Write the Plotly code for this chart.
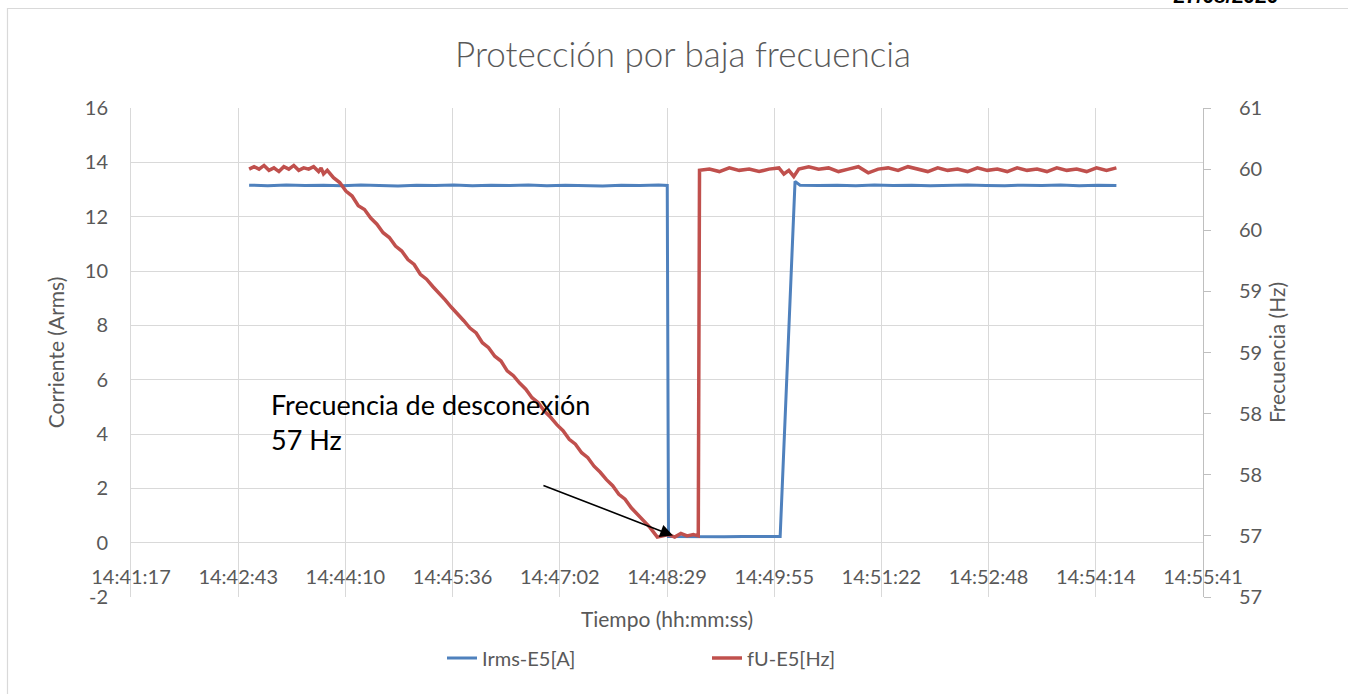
import pandas as pd
import plotly.graph_objects as go

DATE = "2020-08-27"

# Irms-E5[A] (eje izquierdo)
irms_time = ["14:42:52", "14:43:07", "14:43:22", "14:43:37", "14:43:52", "14:44:07", "14:44:22",
             "14:44:37", "14:44:52", "14:45:07", "14:45:22", "14:45:37", "14:45:52", "14:46:07",
             "14:46:22", "14:46:37", "14:46:52", "14:47:07", "14:47:22", "14:47:37", "14:47:52",
             "14:48:07", "14:48:22", "14:48:29", "14:48:30", "14:48:45", "14:49:00", "14:49:15",
             "14:49:30", "14:49:45", "14:50:00", "14:50:12", "14:50:16", "14:50:31", "14:50:46",
             "14:51:01", "14:51:16", "14:51:31", "14:51:46", "14:52:01", "14:52:16", "14:52:31",
             "14:52:46", "14:53:01", "14:53:16", "14:53:31", "14:53:46", "14:54:01", "14:54:16",
             "14:54:31"]
irms_val = [13.16, 13.14, 13.17, 13.15, 13.16, 13.14, 13.17,
            13.15, 13.13, 13.16, 13.15, 13.17, 13.14, 13.16,
            13.15, 13.17, 13.14, 13.16, 13.15, 13.13, 13.16,
            13.15, 13.17, 13.15, 0.23, 0.22, 0.23, 0.22,
            0.23, 0.22, 0.23, 13.30, 13.16, 13.15, 13.16,
            13.14, 13.17, 13.15, 13.16, 13.14, 13.15, 13.17,
            13.15, 13.14, 13.16, 13.15, 13.17, 13.14, 13.16,
            13.15]

# fU-E5[Hz] (eje derecho)
fu_time = ["14:42:52", "14:42:56", "14:43:00", "14:43:04", "14:43:08", "14:43:12", "14:43:16",
           "14:43:20", "14:43:24", "14:43:28", "14:43:32", "14:43:36", "14:43:40", "14:43:44",
           "14:43:48", "14:43:50", "14:43:52", "14:43:55",
           "14:44:00", "14:44:05", "14:44:10", "14:44:15", "14:44:20", "14:44:25", "14:44:30",
           "14:44:35", "14:44:40", "14:44:45", "14:44:50", "14:44:55", "14:45:00", "14:45:05",
           "14:45:10", "14:45:15", "14:45:20", "14:45:25", "14:45:30", "14:45:35", "14:45:40",
           "14:45:45", "14:45:50", "14:45:55", "14:46:00", "14:46:05", "14:46:10", "14:46:15",
           "14:46:20", "14:46:25", "14:46:30", "14:46:35", "14:46:40", "14:46:45", "14:46:50",
           "14:46:55", "14:47:00", "14:47:05", "14:47:10", "14:47:15", "14:47:20", "14:47:25",
           "14:47:30", "14:47:35", "14:47:40", "14:47:45", "14:47:50", "14:47:55", "14:48:00",
           "14:48:05", "14:48:10", "14:48:15", "14:48:21",
           "14:48:25", "14:48:30", "14:48:35", "14:48:40", "14:48:45", "14:48:50", "14:48:54",
           "14:48:55", "14:49:03", "14:49:11", "14:49:19", "14:49:27", "14:49:35", "14:49:43",
           "14:49:51", "14:49:59", "14:50:03", "14:50:07", "14:50:11", "14:50:15", "14:50:23",
           "14:50:31", "14:50:39", "14:50:47", "14:50:55", "14:51:03", "14:51:11", "14:51:19",
           "14:51:27", "14:51:35", "14:51:43", "14:51:51", "14:51:59", "14:52:07", "14:52:15",
           "14:52:23", "14:52:31", "14:52:39", "14:52:47", "14:52:55", "14:53:03", "14:53:11",
           "14:53:19", "14:53:27", "14:53:35", "14:53:43", "14:53:51", "14:53:59", "14:54:07",
           "14:54:15", "14:54:23", "14:54:31"]
fu_val = [60.00, 60.02, 60.00, 60.03, 59.99, 60.01, 59.98,
          60.02, 60.00, 60.03, 59.99, 60.01, 60.00, 60.02,
          59.98, 60.01, 59.96, 59.99,
          59.93, 59.89, 59.82, 59.78, 59.70, 59.67, 59.60,
          59.55, 59.48, 59.44, 59.37, 59.33, 59.26, 59.22,
          59.14, 59.10, 59.04, 58.99, 58.93, 58.87, 58.82,
          58.76, 58.70, 58.66, 58.58, 58.54, 58.47, 58.43,
          58.35, 58.31, 58.25, 58.20, 58.13, 58.09, 58.02,
          57.97, 57.91, 57.86, 57.79, 57.75, 57.68, 57.64,
          57.57, 57.52, 57.46, 57.41, 57.34, 57.30, 57.23,
          57.18, 57.12, 57.07, 56.99,
          57.00, 57.01, 56.99, 57.02, 57.00, 57.01, 57.00,
          59.99, 60.00, 59.98, 60.01, 59.99, 60.00, 59.98,
          60.00, 60.01, 59.96, 59.99, 59.94, 60.00, 60.02,
          60.00, 60.01, 59.98, 60.00, 60.02, 59.97, 60.00,
          60.01, 59.99, 60.02, 60.00, 59.98, 60.01, 59.99,
          60.00, 59.98, 60.01, 59.99, 60.00, 59.98, 60.01,
          59.99, 60.00, 59.98, 60.01, 59.99, 60.00, 59.98,
          60.01, 59.99, 60.01]

x_tick_labels = ["14:41:17", "14:42:43", "14:44:10", "14:45:36", "14:47:02", "14:48:29",
                 "14:49:55", "14:51:22", "14:52:48", "14:54:14", "14:55:41"]
y_tick_vals = [-2, 0, 2, 4, 6, 8, 10, 12, 14, 16]
y_tick_labels = ["-2", "0", "2", "4", "6", "8", "10", "12", "14", "16"]
y2_tick_vals = [56.5, 57.0, 57.5, 58.0, 58.5, 59.0, 59.5, 60.0, 60.5]
y2_tick_labels = ["57", "57", "58", "58", "59", "59", "60", "60", "61"]

irms_x = [DATE + " " + t for t in irms_time]
fu_x = [DATE + " " + t for t in fu_time]

x0 = pd.Timestamp(DATE + " 14:41:16.8")
x_ticks = [x0 + pd.Timedelta(seconds=86.4 * k) for k in range(len(x_tick_labels))]

GRID = "#D9D9D9"
TXT = "#595959"
FONT = "Lato"

fig = go.Figure()
fig.add_trace(go.Scatter(x=irms_x, y=irms_val, mode="lines", name="Irms-E5[A]",
                         line=dict(color="#4F81BD", width=3)))
fig.add_trace(go.Scatter(x=fu_x, y=fu_val, mode="lines", name="fU-E5[Hz]", yaxis="y2",
                         line=dict(color="#C0504D", width=3.5)))

fig.update_layout(
    width=1348, height=694,
    margin=dict(l=131, r=145, t=108, b=97, autoexpand=False),
    paper_bgcolor="white", plot_bgcolor="white",
    font=dict(family=FONT, size=20, color=TXT),
    title=dict(text="Protección por baja frecuencia", x=683 / 1348, xref="container",
               xanchor="center", y=(694 - 55) / 694, yanchor="middle",
               font=dict(family=FONT, size=35, color=TXT, weight=300)),
    xaxis=dict(type="date", range=[x_ticks[0], x_ticks[-1]], tickvals=x_ticks,
               ticktext=x_tick_labels, showgrid=True, gridcolor=GRID, gridwidth=1,
               showline=False, zeroline=False, anchor="free", position=2 / 18,
               ticks="", ticklabelstandoff=20, automargin=False,
               tickfont=dict(size=20, color=TXT),
               title=dict(text="Tiempo (hh:mm:ss)", standoff=25, font=dict(size=21, color=TXT))),
    yaxis=dict(range=[-2, 16], tickvals=y_tick_vals, ticktext=y_tick_labels,
               showgrid=True, gridcolor=GRID, gridwidth=1, automargin=False,
               zeroline=False, showline=True, linecolor=GRID, ticks="", ticklabelstandoff=18,
               tickfont=dict(size=20, color=TXT),
               title=dict(text="Corriente (Arms)", standoff=14, font=dict(size=21, color=TXT))),
    yaxis2=dict(range=[56.5, 60.5], tickvals=y2_tick_vals, ticktext=y2_tick_labels,
                overlaying="y", side="right", showgrid=False, zeroline=False, automargin=False,
                showline=True, linecolor="#BFBFBF", ticks="outside", ticklen=7,
                tickcolor="#BFBFBF", ticklabelstandoff=24,
                tickfont=dict(size=20, color=TXT),
                title=dict(text="Frecuencia (Hz)", standoff=9, font=dict(size=21, color=TXT))),
    legend=dict(orientation="h", x=(442 - 131) / 1072, xanchor="left", y=-0.1247,
                yanchor="middle", entrywidth=220, entrywidthmode="pixels",
                font=dict(size=20, color=TXT), bgcolor="rgba(0,0,0,0)"),
    showlegend=True,
)

# flecha hacia el punto de desconexión
fig.add_annotation(x=DATE + " 14:48:33.6", y=0.26, ax=DATE + " 14:46:48", ay=2.13,
                   xref="x", yref="y", axref="x", ayref="y", text="", showarrow=True,
                   arrowhead=2, arrowsize=1.6, arrowwidth=1.6, arrowcolor="black")
fig.add_annotation(x=(269 - 131) / 1072, y=(597 - 386) / 489, xref="paper", yref="paper",
                   xanchor="left", yanchor="top", align="left", showarrow=False,
                   text="Frecuencia de desconexión<br>57 Hz",
                   font=dict(family=FONT, size=27, color="black"))

# fecha cortada arriba a la derecha
fig.add_annotation(x=(1225 - 131) / 1072, y=(597 + 4) / 489, xref="paper", yref="paper",
                   xanchor="center", yanchor="middle", showarrow=False, text="27/08/2020",
                   font=dict(family="Liberation Sans", size=21, color="black", weight="bold"))

# borde del área del gráfico
fig.add_shape(type="rect", xref="paper", yref="paper",
              x0=(7.5 - 131) / 1072, x1=(1360 - 131) / 1072,
              y0=(597 - 720) / 489, y1=(597 - 8.5) / 489,
              line=dict(color=GRID, width=1.2), fillcolor="rgba(0,0,0,0)", layer="below")

fig.write_html("out.html", config={"displayModeBar": False},
               post_script="document.body.style.margin='0';")
